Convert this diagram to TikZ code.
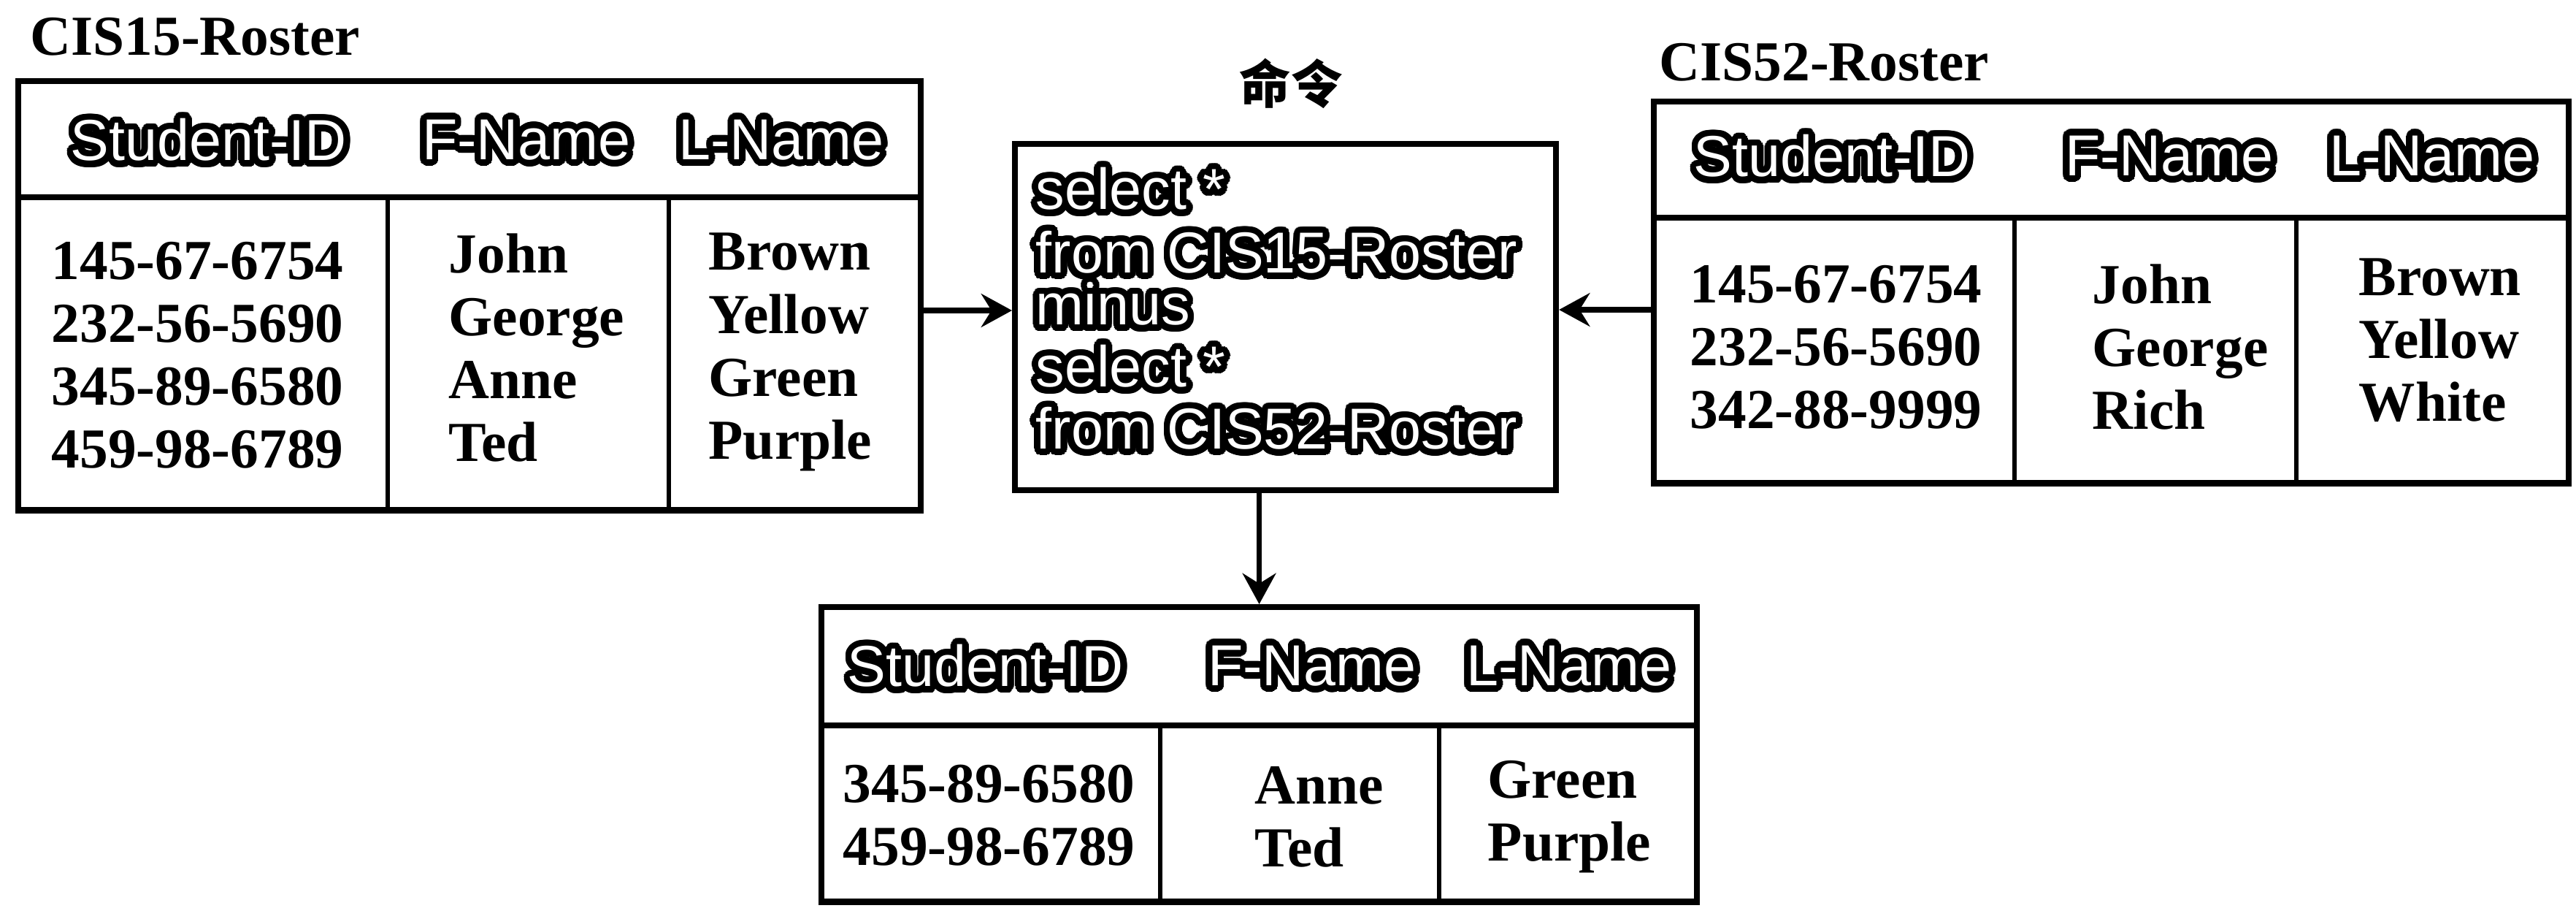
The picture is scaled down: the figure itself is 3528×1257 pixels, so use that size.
\documentclass[tikz,border=0pt]{standalone}
\usepackage{fontspec}
\setmainfont{Liberation Serif}
\newfontfamily\hdrfont{Liberation Sans}
\newfontfamily\cjkfont{Noto Sans CJK SC}
\usepackage{contour}
\contourlength{2.5pt}
\contournumber{32}
\usetikzlibrary{arrows.meta,calc}
\newcommand{\outl}[1]{\contour{black}{#1}}
\tikzset{
  tbl/.style={draw, line width=2.4pt, inner sep=0pt, anchor=north west},
  sep/.style={line width=2.2pt},
  div/.style={line width=1.8pt},
  hdr/.style={font=\hdrfont\fontsize{22.5}{26}\selectfont, text=white, inner sep=0pt},
  cmd/.style={font=\hdrfont\fontsize{22.5}{25}\selectfont, text=white, inner sep=0pt, anchor=west},
  data/.style={font=\bfseries\fontsize{22}{24.5}\selectfont, align=left, anchor=west, inner sep=0pt},
  lbl/.style={font=\bfseries\fontsize{22}{24}\selectfont, anchor=west, inner sep=0pt},
  arr/.style={line width=2.1pt, -{Stealth[length=12pt,width=13pt,inset=4pt]}}
}
\begin{document}
\begin{tikzpicture}[x=0.01cm,y=-0.01cm]
\useasboundingbox[fill=white] (0,0) rectangle (3528,1257);

% ---------- CIS15 table ----------
\node[lbl] (l1) at (41,50) {CIS15-Roster};
\node[tbl, minimum width=12.35cm, minimum height=5.87cm] (t1) at (21,107) {};
\draw[sep] (t1.west |- 0,270) -- (t1.east |- 0,270);
\draw[div] (531,270) -- (531,270 |- t1.south);
\draw[div] (916,270) -- (916,270 |- t1.south);
\node[hdr] (t1a) at (286,196) {\outl{Student-ID}};
\node[hdr] (t1b) at (721,196) {\outl{F-Name}};
\node[hdr] (t1c) at (1070,196) {\outl{L-Name}};
\node[data] (t1d) at (70,486) {145-67-6754\\232-56-5690\\345-89-6580\\459-98-6789};
\node[data] (t1e) at (614,476) {John\\George\\Anne\\Ted};
\node[data] (t1f) at (970,482) {Brown\\Yellow\\Green\\Purple};

% ---------- command box ----------
\node[font=\cjkfont\bfseries\fontsize{20}{22}\selectfont, inner sep=0pt] (cap) at (1768,114) {命令};
\node[draw, line width=2.2pt, inner sep=0pt, anchor=north west, minimum width=7.41cm, minimum height=4.74cm] (m) at (1386,193) {};
\node[cmd] (m1) at (1418,263) {\outl{select *}};
\node[cmd] (m2) at (1418,350) {\outl{from CIS15-Roster}};
\node[cmd] (m3) at (1418,421) {\outl{minus}};
\node[cmd] (m4) at (1418,506) {\outl{select *}};
\node[cmd] (m5) at (1418,591) {\outl{from CIS52-Roster}};

% ---------- CIS52 table ----------
\node[lbl] (l2) at (2272,85) {CIS52-Roster};
\node[tbl, minimum width=12.52cm, minimum height=5.22cm] (t2) at (2261,135) {};
\draw[sep] (t2.west |- 0,298) -- (t2.east |- 0,298);
\draw[div] (2759,298) -- (2759,298 |- t2.south);
\draw[div] (3145,298) -- (3145,298 |- t2.south);
\node[hdr] (t2a) at (2509,218) {\outl{Student-ID}};
\node[hdr] (t2b) at (2971,218) {\outl{F-Name}};
\node[hdr] (t2c) at (3331,218) {\outl{L-Name}};
\node[data] (t2d) at (2314,475) {145-67-6754\\232-56-5690\\342-88-9999};
\node[data] (t2e) at (2865,475) {John\\George\\Rich};
\node[data] (t2f) at (3230,466) {Brown\\Yellow\\White};

% ---------- result table ----------
\node[tbl, minimum width=11.98cm, minimum height=4.03cm] (t3) at (1121,827) {};
\draw[sep] (t3.west |- 0,993) -- (t3.east |- 0,993);
\draw[div] (1589,993) -- (1589,993 |- t3.south);
\draw[div] (1971,993) -- (1971,993 |- t3.south);
\node[hdr] (t3a) at (1350,916) {\outl{Student-ID}};
\node[hdr] (t3b) at (1797,916) {\outl{F-Name}};
\node[hdr] (t3c) at (2149,916) {\outl{L-Name}};
\node[data] (t3d) at (1154,1116) {345-89-6580\\459-98-6789};
\node[data] (t3e) at (1718,1118) {Anne\\Ted};
\node[data] (t3f) at (2037,1118) {Green\\Purple};

% ---------- arrows ----------
\draw[arr] (t1.east |- 0,425) -- (m.west |- 0,425);
\draw[arr] (t2.west |- 0,424) -- (m.east |- 0,424);
\draw[arr] (m.south -| t3.north) -- (t3.north);
\end{tikzpicture}
\end{document}
